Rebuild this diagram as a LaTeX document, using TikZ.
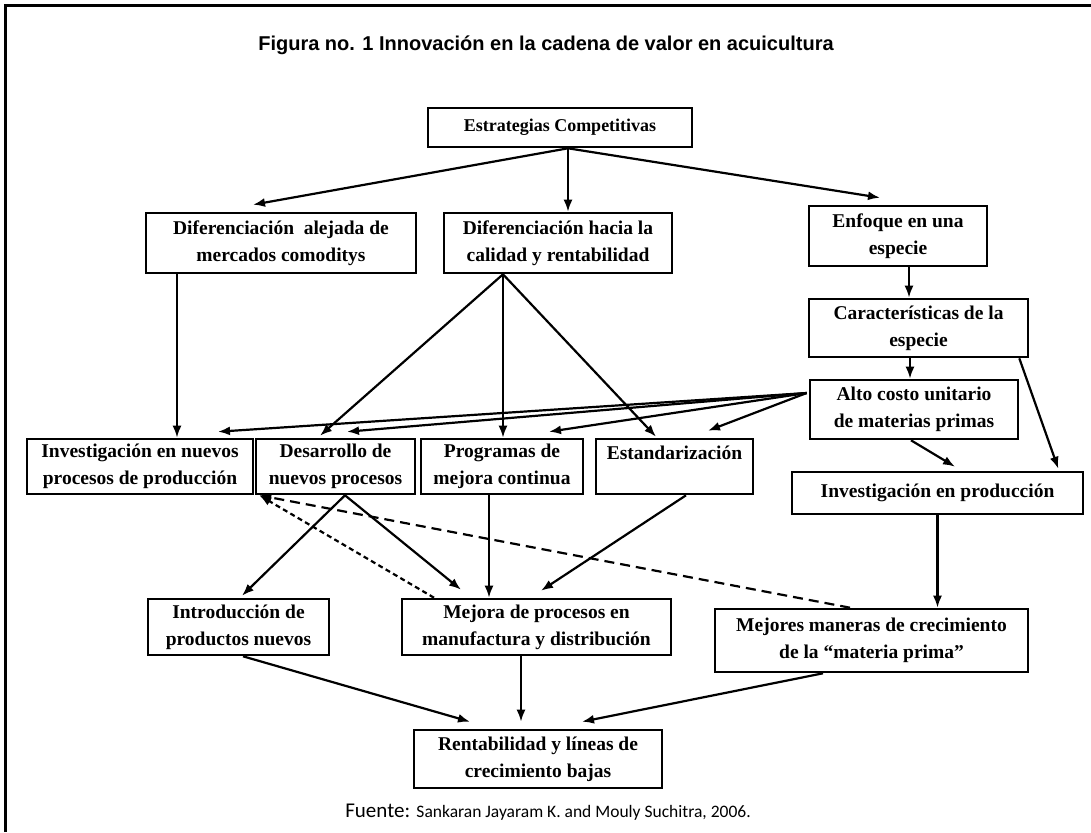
\documentclass[tikz,border=0pt]{standalone}
\usepackage{fontspec}
\setmainfont{Liberation Serif}
\newfontfamily\titlefont{Liberation Sans}
\newfontfamily\srcfont{Carlito}
\usetikzlibrary{arrows.meta,calc}
\begin{document}
\begin{tikzpicture}[x=1pt,y=-1pt,
  box/.style={draw, line width=2.6pt, align=center, inner sep=2pt,
    font=\fontsize{19.5}{27}\selectfont\bfseries},
  arr/.style={line width=2.2pt, -{Latex[length=12pt,width=9pt]}},
  dsh/.style={arr, dash pattern=on 10pt off 6pt},
  dtt/.style={arr, dash pattern=on 5pt off 3.5pt}]
\fill[white] (0,0) rectangle (1091,832);
\useasboundingbox (0,0) rectangle (1091,832);
% frame
\draw[line width=3pt] (5,832) -- (5,6) -- (1091,6);
% title
\node[font=\titlefont\bfseries\fontsize{20}{24}\selectfont] (title) at (546,45)
  {Figura no. 1 Innovación en la cadena de valor en acuicultura};
% boxes
\node[box, font=\fontsize{18}{22}\selectfont\bfseries, minimum width=264pt, minimum height=39pt] (est) at (560,127.5) {Estrategias Competitivas};
\node[box, minimum width=270pt, minimum height=60pt] (alej) at (281,243) {Diferenciación\ \ alejada de\\mercados comoditys};
\node[box, minimum width=228pt, minimum height=60pt] (hac) at (558,243) {Diferenciación hacia la\\calidad y rentabilidad};
\node[box, minimum width=178pt, minimum height=60pt] (enf) at (898,236) {Enfoque en una\\especie};
\node[box, minimum width=219pt, minimum height=58pt] (car) at (918.5,328) {Características de la\\especie};
\node[box, minimum width=208pt, minimum height=59pt] (alto) at (914,409.5) {Alto costo unitario\\de materias primas};
\node[box, minimum width=226pt, minimum height=55pt] (inv) at (140,466.5) {Investigación en nuevos\\procesos de producción};
\node[box, minimum width=159pt, minimum height=55pt] (des) at (335.5,466.5) {Desarrollo de\\nuevos procesos};
\node[box, minimum width=162pt, minimum height=55pt] (prog) at (502,466.5) {Programas de\\mejora continua};
\node[box, minimum width=157pt, minimum height=55pt] (estd) at (674.5,466.5) {Estandarización\\\mbox{}};
\node[box, minimum width=291pt, minimum height=42pt] (invp) at (937.5,493) {Investigación en producción};
\node[box, minimum width=181pt, minimum height=56pt] (intro) at (238.5,627) {Introducción de\\productos nuevos};
\node[box, minimum width=269pt, minimum height=56pt] (mej) at (536.5,627) {Mejora de procesos en\\manufactura y distribución};
\node[box, minimum width=313pt, minimum height=63pt] (mejs) at (871.5,640.5) {Mejores maneras de crecimiento\\de la ``materia prima''};
\node[box, minimum width=248pt, minimum height=58pt] (rent) at (538,759) {Rentabilidad y líneas de\\crecimiento bajas};
% source
\node[anchor=center] (src) at (548,812)
  {\srcfont\fontsize{21}{24}\selectfont Fuente: \fontsize{17.5}{20}\selectfont Sankaran Jayaram K. and Mouly Suchitra, 2006.};
% named points
\coordinate (estS) at ([xshift=8pt]est.south);
\coordinate (hacA) at ([xshift=-55pt]hac.south);
\coordinate (altoA) at ([xshift=-2pt,yshift=16.5pt]alto.west);
\coordinate (desA) at ([xshift=9.5pt]des.south);
\coordinate (dTip) at ([xshift=5pt]inv.south east);
% connectors
\draw[arr] (estS) -- ([xshift=-28pt,yshift=7pt]alej.north);
\draw[arr] (estS) -- ([xshift=10pt]hac.north);
\draw[arr] (estS) -- ([xshift=-18pt,yshift=7pt]enf.north);
\draw[arr] ([xshift=-104pt]alej.south) -- ([xshift=-104pt]alej.south |- inv.north);
\draw[arr] (hacA) -- ([xshift=-15.5pt,yshift=2pt]des.north);
\draw[arr] (hacA) -- (hacA |- prog.north);
\draw[arr] (hacA) -- ([xshift=-18.5pt,yshift=1pt]estd.north);
\draw[arr] (altoA) -- ([xshift=78pt,yshift=6pt]inv.north);
\draw[arr] (altoA) -- ([xshift=11.5pt,yshift=6pt]des.north);
\draw[arr] (altoA) -- ([xshift=47pt,yshift=6pt]prog.north);
\draw[arr] (altoA) -- ([xshift=33.5pt,yshift=7pt]estd.north);
\draw[arr] ([xshift=11pt]enf.south) -- ([xshift=11pt]enf.south |- car.north);
\draw[arr] ([xshift=-8.5pt]car.south) -- ([xshift=-8.5pt]car.south |- alto.north);
\draw[arr] ([xshift=-10pt]car.south east) -- ([xshift=-26pt,yshift=2pt]invp.north east);
\draw[arr] ([xshift=-3pt]alto.south) -- ([xshift=17.5pt,yshift=4pt]invp.north);
\draw[arr] (invp.south) -- (invp.south |- mejs.north);
\draw[arr] (desA) -- ([xshift=3.5pt,yshift=2pt]intro.north);
\draw[arr] (desA) -- ([xshift=-75.5pt,yshift=8pt]mej.north);
\draw[arr] ([xshift=-13pt]prog.south) -- ([xshift=-13pt]prog.south |- mej.north);
\draw[arr] ([xshift=11.5pt]estd.south) -- ([xshift=4.5pt,yshift=7pt]mej.north);
\draw[dtt] ([xshift=-102.5pt]mej.north) -- (dTip);
\draw[dsh] ([xshift=-21.5pt]mejs.north) -- (dTip);
\draw[arr] ([xshift=4.5pt]intro.south) -- ([xshift=-68pt,yshift=7pt]rent.north);
\draw[arr] ([xshift=-15.5pt]mej.south) -- ([xshift=-17pt,yshift=7pt]rent.north);
\draw[arr] ([xshift=-48.5pt]mejs.south) -- ([xshift=44pt,yshift=7pt]rent.north);
\end{tikzpicture}
\end{document}
